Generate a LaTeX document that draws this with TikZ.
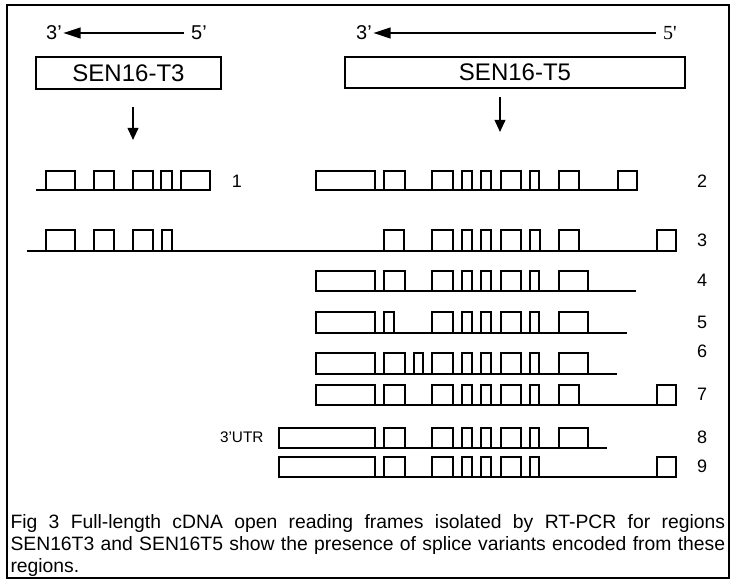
\documentclass[tikz,border=0pt]{standalone}
\usepackage{fontspec}
\setmainfont{Liberation Sans}
\newfontfamily\timesfont{Liberation Serif}
\usetikzlibrary{arrows.meta}

\tikzset{every picture/.style={line width=0.75pt}}
\tikzset{
  exon/.style={fill=white, line width=1.3pt},
  intron/.style={line width=1.1pt},
  genebox/.style={draw, line width=1.3pt, inner sep=0pt, font=\fontsize{18}{20}\selectfont},
  endlabel/.style={inner sep=0.75pt, font=\fontsize{15}{16}\selectfont},
  rowlabel/.style={inner sep=0.75pt, font=\fontsize{13.5}{15}\selectfont},
  strandtip/.style={line width=1.5pt, shorten <=4pt, -{Triangle[length=13pt,width=8pt]}},
  downtip/.style={line width=1.3pt, -{Triangle[length=9pt,width=8pt]}},
}

\begin{document}
\begin{tikzpicture}[x=0.75pt,y=0.75pt,yscale=-1,xscale=1]
\useasboundingbox (0,0) rectangle (734,581);

%Frame
\draw [line width=1.2pt] (7,5) rectangle (729,578);

% Text Node
\draw (54,33) node [endlabel] (t3three) {3'};
% Text Node
\draw (199,33) node [endlabel] (t3five) {5'};
% Text Node
\draw (364,33) node [endlabel] (t5three) {3'};
% Text Node
\draw (670,33) node [endlabel] (t5five) {\timesfont 5'};
%Straight Lines
\draw [strandtip] (t3five) -- (t3three);
%Straight Lines
\draw [strandtip] (t5five) -- (t5three);

%Shape: Rectangle
\draw (128.5,73) node [genebox, minimum width=138.75pt, minimum height=24pt] (t3box) {SEN16-T3};
%Shape: Rectangle
\draw (515,72.5) node [genebox, minimum width=255pt, minimum height=23.25pt] (t5box) {SEN16-T5};

\coordinate (t3from) at (133,107);
\coordinate (t3to) at (133,140);
\coordinate (t5from) at (500,97);
\coordinate (t5to) at (500,132);
%Straight Lines
\draw [downtip] (t3from) -- (t3to);
%Straight Lines
\draw [downtip] (t5from) -- (t5to);

%Straight Lines (introns)
\draw [intron] (36,190) -- (210,190);
\draw [intron] (316,190) -- (637,190);
\draw [intron] (27,251) -- (676,251);
\draw [intron] (316,291) -- (636,291);
\draw [intron] (316,333) -- (627,333);
\draw [intron] (316,374) -- (617,374);
\draw [intron] (316,405) -- (676,405);
\draw [intron] (279,448) -- (607,448);
\draw [intron] (279,477) -- (676,477);

%Shape: Rectangle (variant 1)
\draw [exon] (46,171) rectangle (75,190) (94,171) rectangle (114,190) (133,171) rectangle (153,190) (161,171) rectangle (172,190) (181,171) rectangle (210,190);
%Shape: Rectangle (variant 2)
\draw [exon] (316,171) rectangle (375,190) (384,171) rectangle (405,190) (432,171) rectangle (453,190) (462,171) rectangle (472,190) (481,171) rectangle (491,190) (501,171) rectangle (521,190) (530,171) rectangle (539,190) (559,171) rectangle (579,190) (618,171) rectangle (637,190);
%Shape: Rectangle (variant 3)
\draw [exon] (46,230) rectangle (75,251) (94,230) rectangle (114,251) (133,230) rectangle (153,251) (162,230) rectangle (172,251);
\draw [exon] (384,230) rectangle (404,251) (432,230) rectangle (453,251) (462,230) rectangle (472,251) (481,230) rectangle (491,251) (501,230) rectangle (521,251) (530,230) rectangle (540,251) (559,230) rectangle (579,251) (657,230) rectangle (676,251);
%Shape: Rectangle (variant 4)
\draw [exon] (316,271) rectangle (375,291) (384,271) rectangle (405,291) (432,271) rectangle (453,291) (462,271) rectangle (472,291) (481,271) rectangle (491,291) (501,271) rectangle (521,291) (530,271) rectangle (539,291) (559,271) rectangle (588,291);
%Shape: Rectangle (variant 5)
\draw [exon] (316,312) rectangle (375,333) (384,312) rectangle (394,333) (432,312) rectangle (453,333) (462,312) rectangle (472,333) (481,312) rectangle (491,333) (501,312) rectangle (521,333) (530,312) rectangle (539,333) (559,312) rectangle (588,333);
%Shape: Rectangle (variant 6)
\draw [exon] (316,353) rectangle (375,374) (384,353) rectangle (405,374) (414,353) rectangle (423,374) (432,353) rectangle (453,374) (462,353) rectangle (472,374) (481,353) rectangle (491,374) (501,353) rectangle (521,374) (530,353) rectangle (539,374) (559,353) rectangle (588,374);
%Shape: Rectangle (variant 7)
\draw [exon] (316,385) rectangle (375,405) (384,385) rectangle (405,405) (432,385) rectangle (453,405) (462,385) rectangle (472,405) (481,385) rectangle (491,405) (501,385) rectangle (521,405) (530,385) rectangle (539,405) (559,385) rectangle (579,405) (657,385) rectangle (676,405);
%Shape: Rectangle (variant 8)
\draw [exon] (279,428) rectangle (375,448) (384,428) rectangle (405,448) (432,428) rectangle (453,448) (462,428) rectangle (472,448) (481,428) rectangle (491,448) (501,428) rectangle (521,448) (530,428) rectangle (539,448) (559,428) rectangle (588,448);
%Shape: Rectangle (variant 9)
\draw [exon] (279,457) rectangle (375,477) (384,457) rectangle (405,477) (432,457) rectangle (453,477) (462,457) rectangle (472,477) (481,457) rectangle (491,477) (501,457) rectangle (521,477) (530,457) rectangle (539,477) (657,457) rectangle (676,477);

% Text Node
\draw (237,181) node [rowlabel] (num1) {1};
% Text Node
\draw (702,181) node [rowlabel] (num2) {2};
% Text Node
\draw (702,240) node [rowlabel] (num3) {3};
% Text Node
\draw (702,280) node [rowlabel] (num4) {4};
% Text Node
\draw (702,322) node [rowlabel] (num5) {5};
% Text Node
\draw (702,351) node [rowlabel] (num6) {6};
% Text Node
\draw (702,394) node [rowlabel] (num7) {7};
% Text Node
\draw (702,437) node [rowlabel] (num8) {8};
% Text Node
\draw (702,466) node [rowlabel] (num9) {9};
% Text Node
\draw (265,437) node [anchor=east][inner sep=0.75pt, font=\fontsize{11.5}{13}\selectfont] (utr) {3'UTR};

% Text Node
\draw (10,514) node [anchor=north west][inner sep=0pt, text width=536pt, align=justify, font=\fontsize{14.5}{16.5}\selectfont] (caption) {Fig 3 Full-length cDNA open reading frames isolated by RT-PCR for regions\linebreak SEN16T3 and SEN16T5 show the presence of splice variants encoded from these\linebreak regions.};

\end{tikzpicture}
\end{document}
